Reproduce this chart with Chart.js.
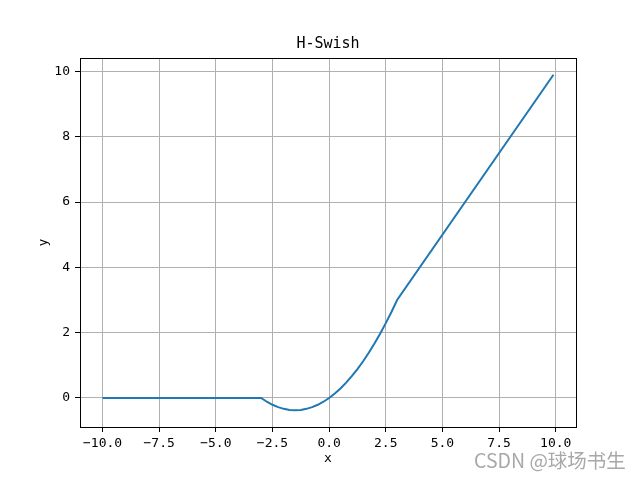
<!DOCTYPE html>
<html>
<head>
<meta charset="utf-8">
<script src="https://cdn.jsdelivr.net/npm/chart.js@4/dist/chart.umd.min.js"></script>
<style>
  html, body { margin: 0; padding: 0; background: #fff; }
  canvas { display: block; }
</style>
</head>
<body>
<canvas id="c" width="640" height="480"></canvas>
<script>
// values
const xs = [-10, -3, -2.75, -2.5, -2.25, -2, -1.75, -1.5, -1.25, -1, -0.75, -0.5, -0.25,
  0, 0.25, 0.5, 0.75, 1, 1.25, 1.5, 1.75, 2, 2.25, 2.5, 2.75, 3, 9.9];
const ys = [0, 0, -0.115, -0.208, -0.281, -0.333, -0.365, -0.375, -0.365, -0.333, -0.281, -0.208, -0.115,
  0, 0.135, 0.292, 0.469, 0.667, 0.885, 1.125, 1.385, 1.667, 1.969, 2.292, 2.635, 3, 9.9];
const xTicks = [-10, -7.5, -5, -2.5, 0, 2.5, 5, 7.5, 10];
const yTicks = [0, 2, 4, 6, 8, 10];

const MONO = '"DejaVu Sans Mono", monospace';
Chart.defaults.font.family = MONO;
Chart.defaults.font.size = 13;
Chart.defaults.color = '#000';

const fmtX = v => (v < 0 ? '\u2212' : '') + Math.abs(v).toFixed(1);

const extras = {
  id: 'extras',
  beforeDraw(chart) {
    const ctx = chart.ctx;
    ctx.save();
    ctx.fillStyle = '#fff';
    ctx.fillRect(0, 0, chart.width, chart.height);
    ctx.restore();
  },
  afterDraw(chart) {
    const { ctx, chartArea: a } = chart;
    ctx.save();
    ctx.strokeStyle = '#000';
    ctx.lineWidth = 1;
    ctx.strokeRect(Math.round(a.left) + 0.5, Math.round(a.top) + 0.5,
      Math.round(a.right - a.left), Math.round(a.bottom - a.top));
    ctx.fillStyle = '#000';
    ctx.textAlign = 'center';
    ctx.textBaseline = 'middle';
    ctx.font = '15px ' + MONO;
    ctx.fillText('H-Swish', (a.left + a.right) / 2, 44);
    ctx.font = '13px ' + MONO;
    ctx.fillText('x', (a.left + a.right) / 2, 459);
    ctx.translate(44, (a.top + a.bottom) / 2);
    ctx.rotate(-Math.PI / 2);
    ctx.fillText('y', 0, 0);
    ctx.restore();
    ctx.save();
    ctx.fillStyle = '#a8a8a8';
    ctx.font = '19.5px "Noto Sans CJK SC", "Noto Sans", sans-serif';
    ctx.textAlign = 'left';
    ctx.textBaseline = 'alphabetic';
    ctx.fillText('CSDN @球场书生', 474, 468);
    ctx.restore();
  }
};

new Chart(document.getElementById('c'), {
  type: 'line',
  data: {
    datasets: [{
      data: xs.map((x, i) => ({ x, y: ys[i] })),
      borderColor: '#1f77b4',
      borderWidth: 2,
      pointRadius: 0,
      fill: false,
      tension: 0
    }]
  },
  options: {
    responsive: false,
    animation: false,
    layout: { padding: { top: 58, right: 64, left: 0, bottom: 0 } },
    plugins: { legend: { display: false }, tooltip: { enabled: false } },
    scales: {
      x: {
        type: 'linear',
        min: -10.995,
        max: 10.895,
        afterBuildTicks: s => { s.ticks = xTicks.map(v => ({ value: v })); },
        afterFit: s => { s.height = 53; },
        ticks: { callback: v => fmtX(v), padding: 4, maxRotation: 0, autoSkip: false },
        grid: { color: '#b0b0b0', lineWidth: 1, tickColor: '#000', tickLength: 5, tickWidth: 1 },
        border: { display: false }
      },
      y: {
        min: -0.889,
        max: 10.414,
        afterBuildTicks: s => { s.ticks = yTicks.map(v => ({ value: v })); },
        afterFit: s => { s.width = 80; },
        ticks: { callback: v => String(v), padding: 5, autoSkip: false },
        grid: { color: '#b0b0b0', lineWidth: 1, tickColor: '#000', tickLength: 5, tickWidth: 1 },
        border: { display: false }
      }
    }
  },
  plugins: [extras]
});
</script>
</body>
</html>
